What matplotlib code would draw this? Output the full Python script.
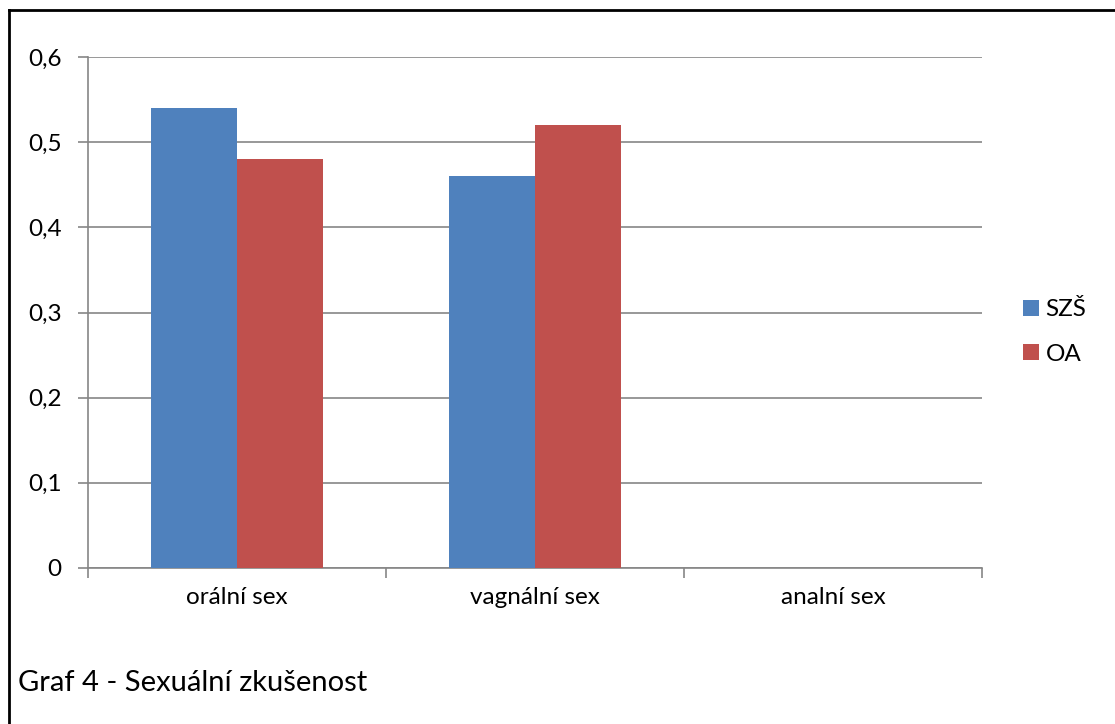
import matplotlib
matplotlib.use("Agg")
import matplotlib.pyplot as plt
from matplotlib.lines import Line2D
from matplotlib.patches import Patch
import numpy as np

plt.rcParams['font.family'] = ['Lato', 'DejaVu Sans']

categories = ["orální sex", "vagnální sex", "analní sex"]
series_names = ["SZŠ", "OA"]
szs_values = [0.54, 0.46, 0.0]
oa_values = [0.48, 0.52, 0.0]
y_ticks = [0, 0.1, 0.2, 0.3, 0.4, 0.5, 0.6]
y_tick_labels = ["0", "0,1", "0,2", "0,3", "0,4", "0,5", "0,6"]
caption = "Graf 4 - Sexuální zkušenost"

blue = "#4F81BD"
red = "#C0504D"
grid_color = "#868686"
label_size = 17.5

fig = plt.figure(figsize=(11.15, 7.24), dpi=100)
ax = fig.add_axes([88 / 1115, 156 / 724, 894 / 1115, 511 / 724])

x = np.arange(len(categories)) + 0.5
w = 0.288
ax.bar(x - w / 2, szs_values, width=w, color=blue, zorder=3)
ax.bar(x + w / 2, oa_values, width=w, color=red, zorder=3)

ax.set_xlim(0, 3)
ax.set_ylim(0, 0.6)
ax.set_yticks(y_ticks)
ax.set_yticklabels(y_tick_labels, fontsize=label_size)
ax.set_xticks([0, 1, 2, 3])
ax.set_xticklabels([])
ax.set_xticks(x, minor=True)
ax.set_xticklabels(categories, minor=True, fontsize=label_size)
ax.tick_params(axis='x', which='minor', length=0, pad=14)
ax.tick_params(axis='x', which='major', length=7, width=1.2, color=grid_color, direction='out')
ax.tick_params(axis='y', length=7, width=1.2, color=grid_color, direction='out', pad=12)

ax.grid(axis='y', color=grid_color, linewidth=1.2, zorder=0)
for side in ['top', 'right']:
    ax.spines[side].set_visible(False)
for side in ['left', 'bottom']:
    ax.spines[side].set_color(grid_color)
    ax.spines[side].set_linewidth(1.2)

handles = [Patch(facecolor=blue, edgecolor='none'), Patch(facecolor=red, edgecolor='none')]
fig.legend(handles, series_names, loc='center left', bbox_to_anchor=(1001 / 1115, 1 - 332 / 724),
           frameon=False, fontsize=label_size, handlelength=0.68, handleheight=0.68,
           handletextpad=0.25, labelspacing=0.95)

fig.text(18 / 1115, 1 - 683 / 724, caption, fontsize=21, va='center', ha='left')

# outer frame: top and left edges
fig.add_artist(Line2D([9 / 1115, 1.0], [1 - 10 / 724] * 2, color='black', linewidth=2, transform=fig.transFigure))
fig.add_artist(Line2D([9 / 1115] * 2, [0, 1 - 10 / 724], color='black', linewidth=2, transform=fig.transFigure))

fig.savefig("out.png", dpi=100, facecolor='white')
